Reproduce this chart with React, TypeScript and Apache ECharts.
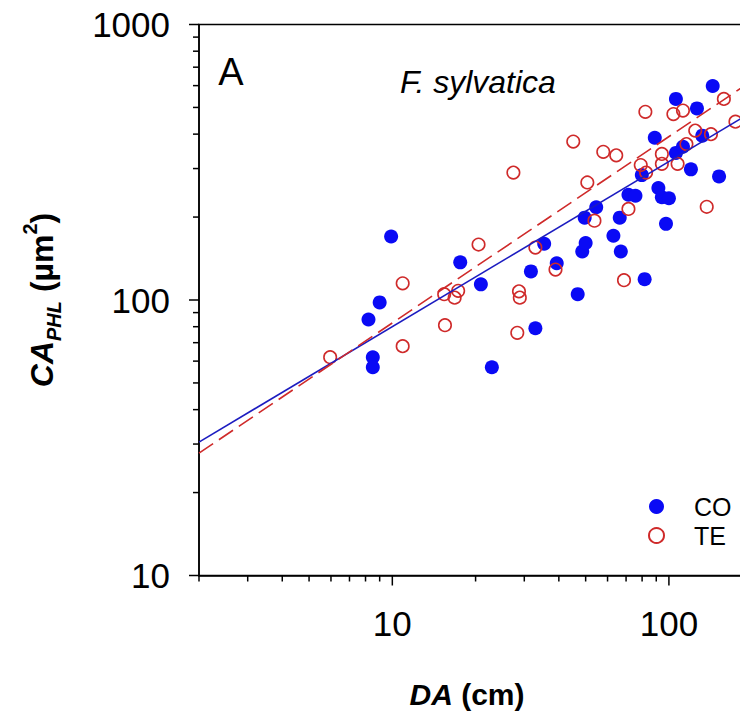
import React, { useEffect, useRef } from 'react';
import * as echarts from 'echarts';

// CO (filled blue) : DA (cm), CA_PHL (µm²)
const coDA = [9.0, 8.2, 8.5, 8.5, 17.6, 20.9, 22.9, 31.7, 32.9, 39.3, 46.8, 48.6, 67, 81.7, 9.9, 35.4, 50.0, 49.6, 54.6, 63, 66.4, 71.4, 75.7, 79.8, 91.6, 94.3, 100, 97.6, 88.9, 106, 112.4, 120.1, 132, 151.8, 144, 106, 126.3];
const coCA = [98, 85, 62, 57, 137, 114, 57, 127, 79, 136, 105, 150, 150, 119, 170, 160, 161, 199, 217, 171, 199, 241, 239, 284, 255, 236, 234, 189, 388, 342, 360, 298, 395, 281, 598, 537, 496];

// TE (open red)
const teDA = [5.96, 10.9, 10.9, 15.4, 15.5, 16.8, 17.3, 28.7, 28.9, 28.3, 38.9, 68.8, 45.1, 57.9, 64.5, 27.4, 50.7, 79.1, 82.7, 94.3, 94.3, 107.5, 115.7, 71.4, 53.8, 137, 32.9, 20.5, 82.2, 103.8, 112.4, 158, 124.5, 141.9, 174];
const teCA = [62, 115, 68, 105, 81, 102, 108, 107.5, 102, 76, 129, 118, 376, 345, 335, 290, 267, 309, 290, 339, 312, 312, 368, 214, 194, 218, 155, 159, 482, 473, 487, 537, 412, 400, 444];

// fitted lines (end points)
const coFitDA = [2, 200];
const coFitCA = [30.5, 482];
const teFitDA = [2, 200];
const teFitCA = [27.8, 626];

// axis ticks
const xMajorTicks = [10, 100, 1000];
const xMinorTicks = [2, 3, 4, 5, 6, 7, 8, 9, 20, 30, 40, 50, 60, 70, 80, 90, 200, 300, 400, 500, 600, 700, 800, 900];
const yMajorTicks = [10, 100, 1000];
const yMinorTicks = [20, 30, 40, 50, 60, 70, 80, 90, 200, 300, 400, 500, 600, 700, 800, 900];
const xTickLabels = ['10', '100'];
const yTickLabels = ['10', '100', '1000'];

const FONT = '"Liberation Sans", Arial, Helvetica, sans-serif';
const BLUE = '#0a0af5';
const RED = '#cf2a2a';

export default function App() {
  const ref = useRef<HTMLDivElement>(null);

  useEffect(() => {
    document.body.style.margin = '0';
    const chart = echarts.init(ref.current!, null, { renderer: 'svg' });

    const xTickData = [
      ...xMajorTicks.map((v) => [v, 10, 1]),
      ...xMinorTicks.map((v) => [v, 10, 0]),
    ];
    const yTickData = [
      ...yMajorTicks.map((v) => [2, v, 1]),
      ...yMinorTicks.map((v) => [2, v, 0]),
    ];

    const option: any = {
      animation: false,
      backgroundColor: '#fff',
      grid: {
        left: 199,
        top: 24.5,
        width: 746.5,
        height: 551,
        outerBoundsMode: 'none',
        containLabel: false,
        show: true,
        borderColor: '#000',
        borderWidth: 1.5,
        backgroundColor: 'transparent',
      },
      xAxis: {
        type: 'log',
        logBase: 10,
        min: 2,
        max: 1000,
        axisLine: { show: true, lineStyle: { color: '#000', width: 1.5 } },
        axisTick: { show: false },
        splitLine: { show: false },
        minorTick: { show: false },
        axisLabel: {
          margin: 30,
          fontSize: 35,
          fontFamily: FONT,
          color: '#000',
          formatter: (v: number) => {
            const s = String(Math.round(v));
            return xTickLabels.includes(s) ? s : '';
          },
        },
      },
      yAxis: {
        type: 'log',
        logBase: 10,
        min: 10,
        max: 1000,
        axisLine: { show: true, lineStyle: { color: '#000', width: 1.5 } },
        axisTick: { show: false },
        splitLine: { show: false },
        axisLabel: {
          margin: 29,
          fontSize: 35,
          fontFamily: FONT,
          color: '#000',
          formatter: (v: number) => {
            const s = String(Math.round(v));
            return yTickLabels.includes(s) ? s : '';
          },
        },
      },
      legend: {
        orient: 'vertical',
        left: 643,
        top: 489,
        itemWidth: 15,
        itemHeight: 15,
        itemGap: 4,
        data: [
          { name: 'CO', icon: 'circle' },
          { name: 'TE', icon: 'circle' },
        ],
        textStyle: { fontSize: 25, fontFamily: FONT, color: '#000', lineHeight: 15, padding: [0, 0, 0, 25] },
      },
      series: [
        {
          name: 'CO',
          type: 'scatter',
          symbol: 'circle',
          symbolSize: 14,
          itemStyle: { color: BLUE, opacity: 1 },
          data: coDA.map((x, i) => [x, coCA[i]]),
          z: 2,
        },
        {
          name: 'TE',
          type: 'scatter',
          symbol: 'circle',
          symbolSize: 12.5,
          itemStyle: { color: 'rgba(255,255,255,0)', borderColor: RED, borderWidth: 1.6, opacity: 1 },
          data: teDA.map((x, i) => [x, teCA[i]]),
          z: 3,
        },
        {
          name: 'CO fit',
          type: 'line',
          showSymbol: false,
          symbol: 'none',
          lineStyle: { color: '#1c1cc0', width: 1.6 },
          data: coFitDA.map((x, i) => [x, coFitCA[i]]),
          z: 4,
        },
        {
          name: 'TE fit',
          type: 'line',
          showSymbol: false,
          symbol: 'none',
          lineStyle: { color: RED, width: 1.6, type: [17, 7] },
          data: teFitDA.map((x, i) => [x, teFitCA[i]]),
          z: 4,
        },
        {
          name: 'xticks',
          type: 'custom',
          clip: false,
          silent: true,
          data: xTickData,
          renderItem: (params: any, api: any) => {
            const p = api.coord([api.value(0), api.value(1)]);
            const len = api.value(2) ? 10 : 6;
            return {
              type: 'line',
              shape: { x1: p[0], y1: p[1], x2: p[0], y2: p[1] + len },
              style: { stroke: '#000', lineWidth: 1.5 },
            };
          },
          z: 5,
        },
        {
          name: 'yticks',
          type: 'custom',
          clip: false,
          silent: true,
          data: yTickData,
          renderItem: (params: any, api: any) => {
            const p = api.coord([api.value(0), api.value(1)]);
            const len = api.value(2) ? 10 : 6;
            return {
              type: 'line',
              shape: { x1: p[0] - len, y1: p[1], x2: p[0], y2: p[1] },
              style: { stroke: '#000', lineWidth: 1.5 },
            };
          },
          z: 5,
        },
      ],
      graphic: [
        {
          type: 'text',
          x: 231,
          y: 72,
          style: { text: 'A', fontSize: 38, fontFamily: FONT, fill: '#000', align: 'center', verticalAlign: 'middle' },
        },
        {
          type: 'text',
          x: 400,
          y: 82,
          style: {
            text: 'F. sylvatica',
            fontSize: 32,
            fontStyle: 'italic',
            fontFamily: FONT,
            fill: '#000',
            align: 'left',
            verticalAlign: 'middle',
          },
        },
        {
          type: 'text',
          x: 467,
          y: 694,
          style: {
            text: '{a|DA}{b| (cm)}',
            align: 'center',
            verticalAlign: 'middle',
            fill: '#000',
            rich: {
              a: { fontSize: 30, fontWeight: 'bold', fontStyle: 'italic', fontFamily: FONT, fill: '#000' },
              b: { fontSize: 30, fontWeight: 'bold', fontFamily: FONT, fill: '#000' },
            },
          },
        },
        {
          type: 'text',
          x: 42,
          y: 300,
          rotation: Math.PI / 2,
          style: {
            text: '{a|CA}{s|PHL}{b| (µm}{p|2}{b|)}',
            align: 'center',
            verticalAlign: 'middle',
            fill: '#000',
            rich: {
              a: { fontSize: 32, fontWeight: 'bold', fontStyle: 'italic', fontFamily: FONT, fill: '#000', lineHeight: 44 },
              s: { fontSize: 20, fontWeight: 'bold', fontStyle: 'italic', fontFamily: FONT, fill: '#000', lineHeight: 20, verticalAlign: 'bottom' },
              b: { fontSize: 32, fontWeight: 'bold', fontFamily: FONT, fill: '#000', lineHeight: 44 },
              p: { fontSize: 20, fontWeight: 'bold', fontFamily: FONT, fill: '#000', lineHeight: 20, verticalAlign: 'top' },
            },
          },
        },
      ],
    };

    chart.setOption(option);
    return () => chart.dispose();
  }, []);

  return <div ref={ref} style={{ width: 740, height: 711 }} />;
}
